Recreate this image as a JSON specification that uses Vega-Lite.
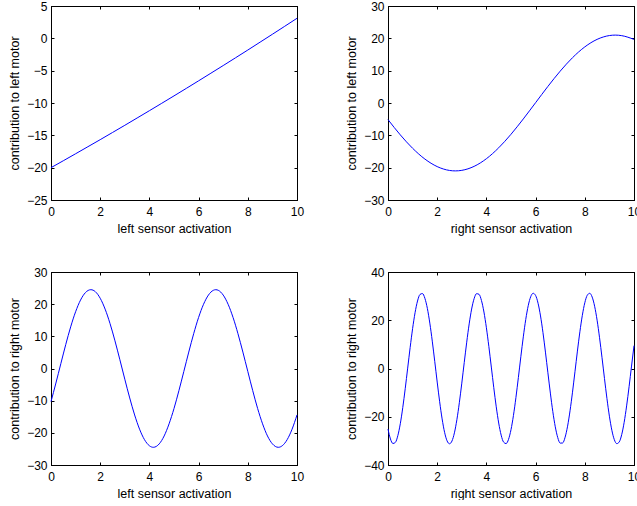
{
  "$schema": "https://vega.github.io/schema/vega-lite/v6.json",
  "background": "white",
  "padding": {"left": 8, "top": -1, "right": -5, "bottom": 0},
  "datasets": {
    "tl": [{"x":0,"y":-20},{"x":0.5,"y":-18.93},{"x":1,"y":-17.85},{"x":1.5,"y":-16.76},{"x":2,"y":-15.67},{"x":2.5,"y":-14.56},{"x":3,"y":-13.45},{"x":3.5,"y":-12.32},{"x":4,"y":-11.19},{"x":4.5,"y":-10.05},{"x":5,"y":-8.9},{"x":5.5,"y":-7.74},{"x":6,"y":-6.57},{"x":6.5,"y":-5.39},{"x":7,"y":-4.21},{"x":7.5,"y":-3.01},{"x":8,"y":-1.81},{"x":8.5,"y":-0.59},{"x":9,"y":0.63},{"x":9.5,"y":1.86},{"x":10,"y":3.1}],
    "tr": [{"x":0,"y":-5.13},{"x":0.5,"y":-9.86},{"x":1,"y":-14.0},{"x":1.5,"y":-17.34},{"x":2,"y":-19.67},{"x":2.5,"y":-20.86},{"x":2.74,"y":-21.0},{"x":3,"y":-20.83},{"x":3.5,"y":-19.6},{"x":4,"y":-17.23},{"x":4.5,"y":-13.85},{"x":5,"y":-9.67},{"x":5.5,"y":-4.93},{"x":6,"y":0.1},{"x":6.5,"y":5.13},{"x":7,"y":9.85},{"x":7.5,"y":14.01},{"x":8,"y":17.35},{"x":8.5,"y":19.68},{"x":9,"y":20.86},{"x":9.24,"y":21.0},{"x":9.5,"y":20.83},{"x":10,"y":19.67}],
    "bl": [{"x":0,"y":-10.29},{"x":0.2,"y":-4.52},{"x":0.4,"y":1.51},{"x":0.6,"y":7.46},{"x":0.8,"y":12.95},{"x":1.0,"y":17.64},{"x":1.2,"y":21.27},{"x":1.4,"y":23.6},{"x":1.62,"y":24.5},{"x":1.8,"y":23.9},{"x":2.0,"y":21.84},{"x":2.2,"y":18.46},{"x":2.4,"y":13.96},{"x":2.6,"y":8.6},{"x":2.8,"y":2.72},{"x":3.0,"y":-3.33},{"x":3.2,"y":-9.16},{"x":3.4,"y":-14.45},{"x":3.6,"y":-18.86},{"x":3.8,"y":-22.12},{"x":4.0,"y":-24.02},{"x":4.16,"y":-24.5},{"x":4.4,"y":-23.43},{"x":4.6,"y":-20.97},{"x":4.8,"y":-17.2},{"x":5.0,"y":-12.44},{"x":5.2,"y":-6.88},{"x":5.4,"y":-0.91},{"x":5.6,"y":5.11},{"x":5.8,"y":10.82},{"x":6.0,"y":15.88},{"x":6.2,"y":19.96},{"x":6.4,"y":22.83},{"x":6.6,"y":24.31},{"x":6.7,"y":24.5},{"x":6.8,"y":24.31},{"x":7.0,"y":22.83},{"x":7.2,"y":19.96},{"x":7.4,"y":15.88},{"x":7.6,"y":10.82},{"x":7.8,"y":5.11},{"x":8.0,"y":-0.91},{"x":8.2,"y":-6.88},{"x":8.4,"y":-12.44},{"x":8.6,"y":-17.2},{"x":8.8,"y":-20.97},{"x":9.0,"y":-23.43},{"x":9.24,"y":-24.5},{"x":9.4,"y":-24.02},{"x":9.6,"y":-22.12},{"x":9.8,"y":-18.86},{"x":10,"y":-14.43}],
    "br": [{"x":0,"y":-25.1},{"x":0.1,"y":-29.21},{"x":0.2,"y":-31.09},{"x":0.3,"y":-30.62},{"x":0.4,"y":-27.82},{"x":0.5,"y":-22.9},{"x":0.6,"y":-16.23},{"x":0.7,"y":-8.36},{"x":0.8,"y":0.16},{"x":0.9,"y":8.66},{"x":1.0,"y":16.53},{"x":1.1,"y":23.12},{"x":1.2,"y":27.97},{"x":1.3,"y":30.68},{"x":1.4,"y":31.07},{"x":1.5,"y":29.09},{"x":1.6,"y":24.91},{"x":1.7,"y":18.81},{"x":1.8,"y":11.34},{"x":1.9,"y":2.96},{"x":2.0,"y":-5.62},{"x":2.1,"y":-13.78},{"x":2.2,"y":-20.9},{"x":2.3,"y":-26.44},{"x":2.4,"y":-29.96},{"x":2.5,"y":-31.2},{"x":2.6,"y":-30.07},{"x":2.7,"y":-26.67},{"x":2.8,"y":-21.23},{"x":2.9,"y":-14.19},{"x":3.0,"y":-6.07},{"x":3.1,"y":2.52},{"x":3.2,"y":10.91},{"x":3.3,"y":18.49},{"x":3.4,"y":24.65},{"x":3.5,"y":28.93},{"x":3.6,"y":31.02},{"x":3.7,"y":30.75},{"x":3.8,"y":28.15},{"x":3.9,"y":23.41},{"x":4.0,"y":16.89},{"x":4.1,"y":9.09},{"x":4.2,"y":0.6},{"x":4.3,"y":-7.94},{"x":4.4,"y":-15.87},{"x":4.5,"y":-22.6},{"x":4.6,"y":-27.62},{"x":4.7,"y":-30.53},{"x":4.8,"y":-31.13},{"x":4.9,"y":-29.36},{"x":5.0,"y":-25.36},{"x":5.1,"y":-19.43},{"x":5.2,"y":-12.06},{"x":5.3,"y":-3.72},{"x":5.4,"y":4.88},{"x":5.5,"y":13.11},{"x":5.6,"y":20.34},{"x":5.7,"y":26.03},{"x":5.8,"y":29.73},{"x":5.9,"y":31.18},{"x":6.0,"y":30.27},{"x":6.1,"y":27.05},{"x":6.2,"y":21.78},{"x":6.3,"y":14.86},{"x":6.4,"y":6.79},{"x":6.5,"y":-1.77},{"x":6.6,"y":-10.2},{"x":6.7,"y":-17.88},{"x":6.8,"y":-24.17},{"x":6.9,"y":-28.64},{"x":7.0,"y":-30.93},{"x":7.1,"y":-30.87},{"x":7.2,"y":-28.47},{"x":7.3,"y":-23.91},{"x":7.4,"y":-17.52},{"x":7.5,"y":-9.82},{"x":7.6,"y":-1.36},{"x":7.7,"y":7.21},{"x":7.8,"y":15.22},{"x":7.9,"y":22.05},{"x":8.0,"y":27.24},{"x":8.1,"y":30.36},{"x":8.2,"y":31.17},{"x":8.3,"y":29.61},{"x":8.4,"y":25.79},{"x":8.5,"y":20.02},{"x":8.6,"y":12.74},{"x":8.7,"y":4.47},{"x":8.8,"y":-4.13},{"x":8.9,"y":-12.44},{"x":9.0,"y":-19.77},{"x":9.1,"y":-25.6},{"x":9.2,"y":-29.5},{"x":9.3,"y":-31.15},{"x":9.4,"y":-30.44},{"x":9.5,"y":-27.42},{"x":9.6,"y":-22.32},{"x":9.7,"y":-15.5},{"x":9.8,"y":-7.54},{"x":9.9,"y":1.01},{"x":10,"y":9.48}]
  },
  "columns": 2,
  "spacing": {"row": 72, "column": 91},
  "bounds": "flush",
  "concat": [
    {
      "width": 246, "height": 194,
      "data": {"name": "tl"},
      "layer": [
        {"mark": {"type": "line", "color": "#0000ff", "strokeWidth": 1, "interpolate": "monotone"},
         "encoding": {
           "x": {"field": "x", "type": "quantitative", "scale": {"domain": [0, 10], "nice": false}, "axis": {"title": "left sensor activation", "values": [0, 2, 4, 6, 8, 10]}},
           "y": {"field": "y", "type": "quantitative", "scale": {"domain": [-25, 5], "nice": false, "zero": false}, "axis": {"title": "contribution to left motor", "values": [-25, -20, -15, -10, -5, 0, 5]}}
         }},
        {"mark": {"type": "line", "opacity": 0},
         "encoding": {
           "x": {"field": "x", "type": "quantitative", "scale": {"domain": [0, 10], "nice": false}, "axis": {"orient": "top", "labels": false, "title": null, "values": [0, 2, 4, 6, 8, 10]}},
           "y": {"field": "y", "type": "quantitative", "scale": {"domain": [-25, 5], "nice": false, "zero": false}, "axis": {"orient": "right", "labels": false, "title": null, "values": [-25, -20, -15, -10, -5, 0, 5]}}
         }}
      ],
      "resolve": {"axis": {"x": "independent", "y": "independent"}}
    },
    {
      "width": 246, "height": 194,
      "data": {"name": "tr"},
      "layer": [
        {"mark": {"type": "line", "color": "#0000ff", "strokeWidth": 1, "interpolate": "monotone"},
         "encoding": {
           "x": {"field": "x", "type": "quantitative", "scale": {"domain": [0, 10], "nice": false}, "axis": {"title": "right sensor activation", "values": [0, 2, 4, 6, 8, 10]}},
           "y": {"field": "y", "type": "quantitative", "scale": {"domain": [-30, 30], "nice": false}, "axis": {"title": "contribution to left motor", "values": [-30, -20, -10, 0, 10, 20, 30]}}
         }},
        {"mark": {"type": "line", "opacity": 0},
         "encoding": {
           "x": {"field": "x", "type": "quantitative", "scale": {"domain": [0, 10], "nice": false}, "axis": {"orient": "top", "labels": false, "title": null, "values": [0, 2, 4, 6, 8, 10]}},
           "y": {"field": "y", "type": "quantitative", "scale": {"domain": [-30, 30], "nice": false}, "axis": {"orient": "right", "labels": false, "title": null, "values": [-30, -20, -10, 0, 10, 20, 30]}}
         }}
      ],
      "resolve": {"axis": {"x": "independent", "y": "independent"}}
    },
    {
      "width": 246, "height": 193,
      "data": {"name": "bl"},
      "layer": [
        {"mark": {"type": "line", "color": "#0000ff", "strokeWidth": 1, "interpolate": "monotone"},
         "encoding": {
           "x": {"field": "x", "type": "quantitative", "scale": {"domain": [0, 10], "nice": false}, "axis": {"title": "left sensor activation", "values": [0, 2, 4, 6, 8, 10]}},
           "y": {"field": "y", "type": "quantitative", "scale": {"domain": [-30, 30], "nice": false}, "axis": {"title": "contribution to right motor", "values": [-30, -20, -10, 0, 10, 20, 30]}}
         }},
        {"mark": {"type": "line", "opacity": 0},
         "encoding": {
           "x": {"field": "x", "type": "quantitative", "scale": {"domain": [0, 10], "nice": false}, "axis": {"orient": "top", "labels": false, "title": null, "values": [0, 2, 4, 6, 8, 10]}},
           "y": {"field": "y", "type": "quantitative", "scale": {"domain": [-30, 30], "nice": false}, "axis": {"orient": "right", "labels": false, "title": null, "values": [-30, -20, -10, 0, 10, 20, 30]}}
         }}
      ],
      "resolve": {"axis": {"x": "independent", "y": "independent"}}
    },
    {
      "width": 246, "height": 193,
      "data": {"name": "br"},
      "layer": [
        {"mark": {"type": "line", "color": "#0000ff", "strokeWidth": 1, "interpolate": "monotone"},
         "encoding": {
           "x": {"field": "x", "type": "quantitative", "scale": {"domain": [0, 10], "nice": false}, "axis": {"title": "right sensor activation", "values": [0, 2, 4, 6, 8, 10]}},
           "y": {"field": "y", "type": "quantitative", "scale": {"domain": [-40, 40], "nice": false}, "axis": {"title": "contribution to right motor", "values": [-40, -20, 0, 20, 40]}}
         }},
        {"mark": {"type": "line", "opacity": 0},
         "encoding": {
           "x": {"field": "x", "type": "quantitative", "scale": {"domain": [0, 10], "nice": false}, "axis": {"orient": "top", "labels": false, "title": null, "values": [0, 2, 4, 6, 8, 10]}},
           "y": {"field": "y", "type": "quantitative", "scale": {"domain": [-40, 40], "nice": false}, "axis": {"orient": "right", "labels": false, "title": null, "values": [-40, -20, 0, 20, 40]}}
         }}
      ],
      "resolve": {"axis": {"x": "independent", "y": "independent"}}
    }
  ],
  "config": {
    "view": {"stroke": "#000000", "strokeWidth": 1},
    "axis": {
      "grid": false,
      "domainColor": "#000000", "domainWidth": 1,
      "tickColor": "#000000", "tickSize": -3, "tickWidth": 1,
      "labelFont": "Liberation Sans", "labelFontSize": 12, "labelColor": "#000000",
      "labelFlush": false, "labelOverlap": false, "labelBound": false,
      "titleFont": "Liberation Sans", "titleFontSize": 12.5, "titleFontWeight": "normal", "titleColor": "#000000", "titlePadding": 5
    },
    "axisX": {"labelPadding": 9},
    "axisY": {"labelPadding": 7}
  }
}
